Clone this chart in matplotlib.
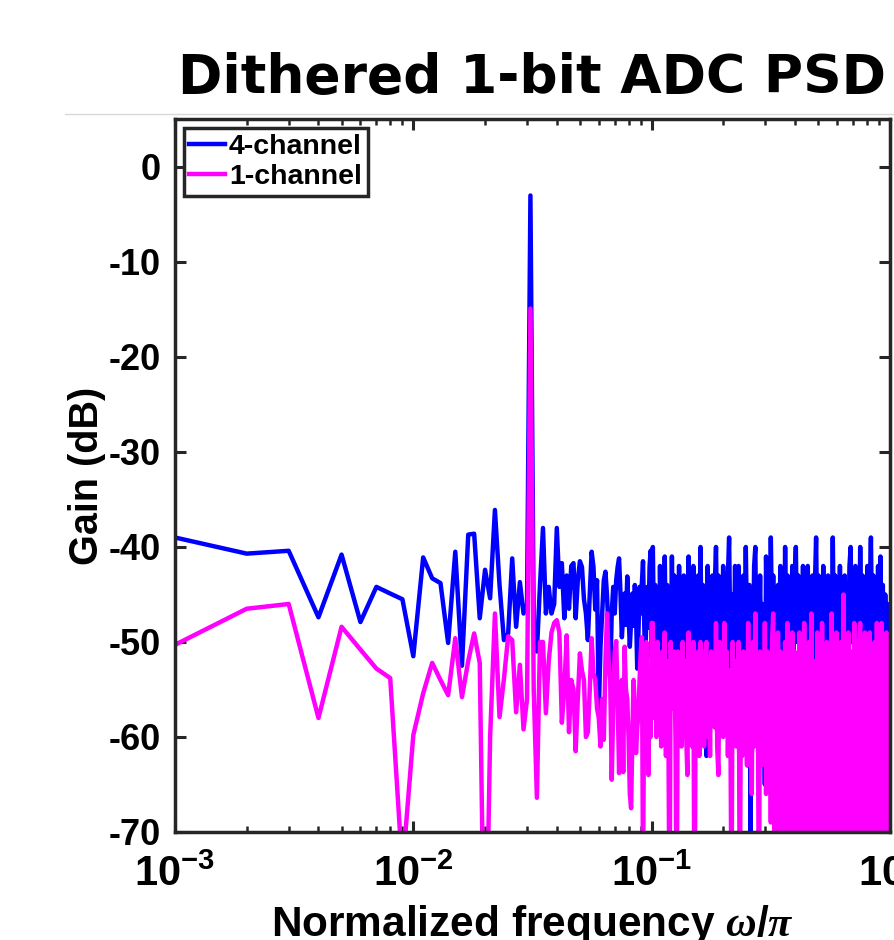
import numpy as np
import matplotlib
matplotlib.use("Agg")
import matplotlib.pyplot as plt
from matplotlib.lines import Line2D

# FFT bins 1..100 (frequency = k / 1000), read bin by bin
low_bins = np.arange(1, 101)
blue_low = [
    -39.0, -40.7, -40.4, -47.4, -40.8, -47.9, -44.2, -44.9, -45.5, -51.5,
    -41.1, -43.3, -43.8, -50.1, -40.5, -52.5, -38.7, -38.6, -47.5, -42.4,
    -45.4, -36.1, -44.0, -49.8, -49.1, -41.2, -48.4, -43.7, -47.0, -46.0,
    -3.0, -48.0, -51.0, -44.0, -38.0, -47.0, -44.2, -47.0, -46.0, -38.0,
    -44.2, -41.7, -47.5, -43.0, -46.5, -42.0, -41.7, -47.5, -43.5, -41.5,
    -42.1, -45.5, -47.0, -49.8, -44.9, -40.5, -42.1, -46.6, -43.5, -57.5,
    -50.5, -47.0, -43.5, -42.6, -45.2, -49.1, -54.0, -47.0, -44.2, -47.0,
    -43.5, -42.1, -41.2, -44.9, -49.5, -47.0, -44.9, -48.2, -43.1, -47.0,
    -50.5, -47.7, -44.9, -48.3, -44.0, -47.0, -52.8, -49.1, -44.2, -47.0,
    -43.8, -41.5, -47.7, -52.6, -47.0, -44.2, -48.5, -42.1, -40.4, -51.6,
]
magenta_low = [
    -50.3, -46.5, -46.0, -58.0, -48.4, -50.8, -52.8, -53.8, -74.0, -59.8,
    -55.4, -52.2, -54.0, -55.6, -49.6, -55.8, -52.0, -49.1, -52.2, -90.0,
    -60.0, -47.0, -57.9, -53.9, -49.4, -49.8, -57.4, -52.4, -59.2, -56.0,
    -14.9, -55.0, -66.4, -50.0, -50.0, -57.5, -52.0, -49.0, -48.0, -47.7,
    -49.0, -58.5, -55.0, -49.3, -59.5, -54.0, -55.0, -61.5, -56.0, -51.2,
    -53.0, -54.0, -60.0, -59.5, -55.0, -49.6, -53.3, -54.0, -57.0, -58.0,
    -61.0, -56.0, -60.3, -52.0, -47.0, -52.0, -54.0, -64.5, -57.0, -51.0,
    -49.9, -56.0, -63.8, -58.0, -54.0, -63.7, -50.5, -55.0, -56.0, -60.0,
    -66.0, -67.5, -60.0, -54.0, -57.0, -61.7, -59.0, -57.5, -54.0, -51.0,
    -49.5, -75.0, -56.0, -62.0, -50.0, -58.0, -64.0, -53.0, -60.0, -48.0,
]

# above 0.1 the trace is too dense to read per bin; values read about every pixel
dense_freq = 10.0 ** (-1 + np.arange(1, 201) / 200)
blue_dense = [
    -40, -50, -44, -52, -45, -56, -42, -51, -46, -49, -41, -52, -44, -50, -45, -53, -41, -50, -43, -51,
    -46, -52, -42, -49, -45, -53, -43, -50, -47, -52, -41, -51, -44, -54, -42, -50, -46, -52, -43, -49,
    -40, -51, -44, -53, -46, -62, -42, -50, -45, -52, -43, -55, -44, -40, -50, -43, -52, -46, -51, -42,
    -50, -44, -53, -43, -39, -50, -61, -45, -51, -42, -52, -46, -42, -50, -44, -53, -43, -51, -40, -49,
    -63, -44, -72, -46, -51, -42, -40, -52, -45, -50, -43, -53, -46, -51, -65, -41, -50, -44, -52, -39,
    -48, -43, -51, -45, -62, -44, -52, -42, -50, -46, -53, -40, -50, -43, -52, -45, -51, -42, -53, -44,
    -40, -50, -43, -52, -46, -51, -42, -53, -44, -50, -42, -52, -45, -51, -43, -67, -44, -39, -50, -43,
    -52, -44, -51, -42, -53, -46, -50, -43, -52, -45, -51, -39, -50, -43, -53, -45, -51, -42, -52, -44,
    -50, -43, -53, -45, -51, -42, -40, -50, -44, -52, -42, -51, -46, -53, -40, -50, -43, -52, -44, -51,
    -42, -53, -45, -39, -50, -43, -52, -44, -51, -42, -53, -41, -50, -44, -52, -45, -51, -46, -50, -53,
]
magenta_dense = [
    -48, -58, -52, -60, -50, -57, -53, -61, -51, -56, -49, -62, -52, -58, -80, -50, -57, -53, -51, -60,
    -80, -51, -58, -53, -61, -50, -57, -52, -60, -64, -49, -58, -53, -61, -50, -85, -52, -59, -51, -62,
    -50, -58, -53, -61, -51, -50, -60, -54, -62, -51, -57, -53, -59, -48, -61, -64, -50, -58, -53, -60,
    -48, -59, -51, -62, -53, -57, -78, -50, -60, -52, -61, -54, -50, -80, -52, -62, -51, -59, -53, -63,
    -48, -60, -53, -66, -50, -61, -47, -58, -52, -80, -51, -63, -53, -60, -48, -66, -51, -62, -53, -69,
    -50, -47, -70, -52, -80, -49, -72, -51, -68, -53, -80, -50, -74, -48, -70, -52, -76, -49, -69, -51,
    -72, -53, -68, -49, -78, -51, -70, -48, -80, -52, -73, -50, -69, -47, -76, -80, -52, -71, -49, -74,
    -51, -80, -48, -72, -53, -69, -50, -77, -52, -71, -47, -74, -51, -80, -49, -70, -53, -76, -50, -71,
    -45, -73, -52, -69, -49, -77, -51, -71, -80, -48, -74, -53, -70, -50, -48, -76, -52, -72, -49, -70,
    -51, -77, -49, -71, -52, -80, -50, -73, -48, -69, -53, -80, -48, -75, -51, -71, -49, -77, -52, -56,
]

x_ticks = [1e-3, 1e-2, 1e-1, 1e0]
x_tick_labels = [r"$\mathbf{10^{-3}}$", r"$\mathbf{10^{-2}}$", r"$\mathbf{10^{-1}}$", r"$\mathbf{10^{0}}$"]
y_ticks = [-70, -60, -50, -40, -30, -20, -10, 0]

plt.rcParams["font.family"] = ["Liberation Sans", "DejaVu Sans"]
plt.rcParams["font.weight"] = "bold"
plt.rcParams["mathtext.fontset"] = "custom"
plt.rcParams["mathtext.rm"] = "Liberation Sans:bold"
plt.rcParams["mathtext.bf"] = "Liberation Sans:bold"
plt.rcParams["mathtext.it"] = "Liberation Serif:italic"

freq = np.concatenate([low_bins / 1000.0, dense_freq])
gain_4ch = np.concatenate([blue_low, blue_dense])
gain_1ch = np.concatenate([magenta_low, magenta_dense])

fig = plt.figure(figsize=(8.95, 9.4), dpi=100)
ax = fig.add_axes([0.1955, 0.1149, 0.7989, 0.758])

ax.plot(freq, gain_4ch, color="#0000ff", lw=3.2, label="4-channel")
ax.plot(freq, gain_1ch, color="#ff00ff", lw=3.2, label="1-channel")

ax.set_xscale("log")
ax.set_xlim(1e-3, 1)
ax.set_ylim(-70, 5)
ax.set_xticks(x_ticks)
ax.set_xticklabels(x_tick_labels)
ax.set_yticks(y_ticks)
ax.set_yticklabels([str(v) for v in y_ticks])

ax.tick_params(which="both", direction="in", top=True, right=True, colors="#262626", labelcolor="black")
ax.tick_params(which="major", length=8, width=2.2)
ax.tick_params(axis="y", which="major", pad=10, labelsize=26)
ax.tick_params(axis="x", which="major", pad=16, labelsize=30)
ax.tick_params(which="minor", length=4.5, width=1.8)
for sp in ax.spines.values():
    sp.set_linewidth(2.5)
    sp.set_color("#262626")

ax.set_xlabel(r"Normalized frequency $\omega/\pi$", fontsize=30.5, fontweight="bold", labelpad=6)
ax.set_ylabel("Gain (dB)", fontsize=28.5, fontweight="bold", labelpad=2)
ax.set_title("Dithered 1-bit ADC PSD", fontsize=38.5, fontweight="bold",
             family=["DejaVu Sans"], pad=19)

leg = ax.legend(loc="upper left", fontsize=20.5, handlelength=1.25, handletextpad=0.15,
                borderpad=0.2, labelspacing=0.15, borderaxespad=0.3,
                fancybox=False, edgecolor="#262626", framealpha=1)
leg.get_frame().set_linewidth(2.5)

# faint separator line above the plot, as in the original figure window
fig.add_artist(Line2D([65 / 895, 1.0], [1 - 114 / 940, 1 - 114 / 940],
                      transform=fig.transFigure, color="#d8d8d8", lw=1))

fig.savefig("out.png", dpi=100)
